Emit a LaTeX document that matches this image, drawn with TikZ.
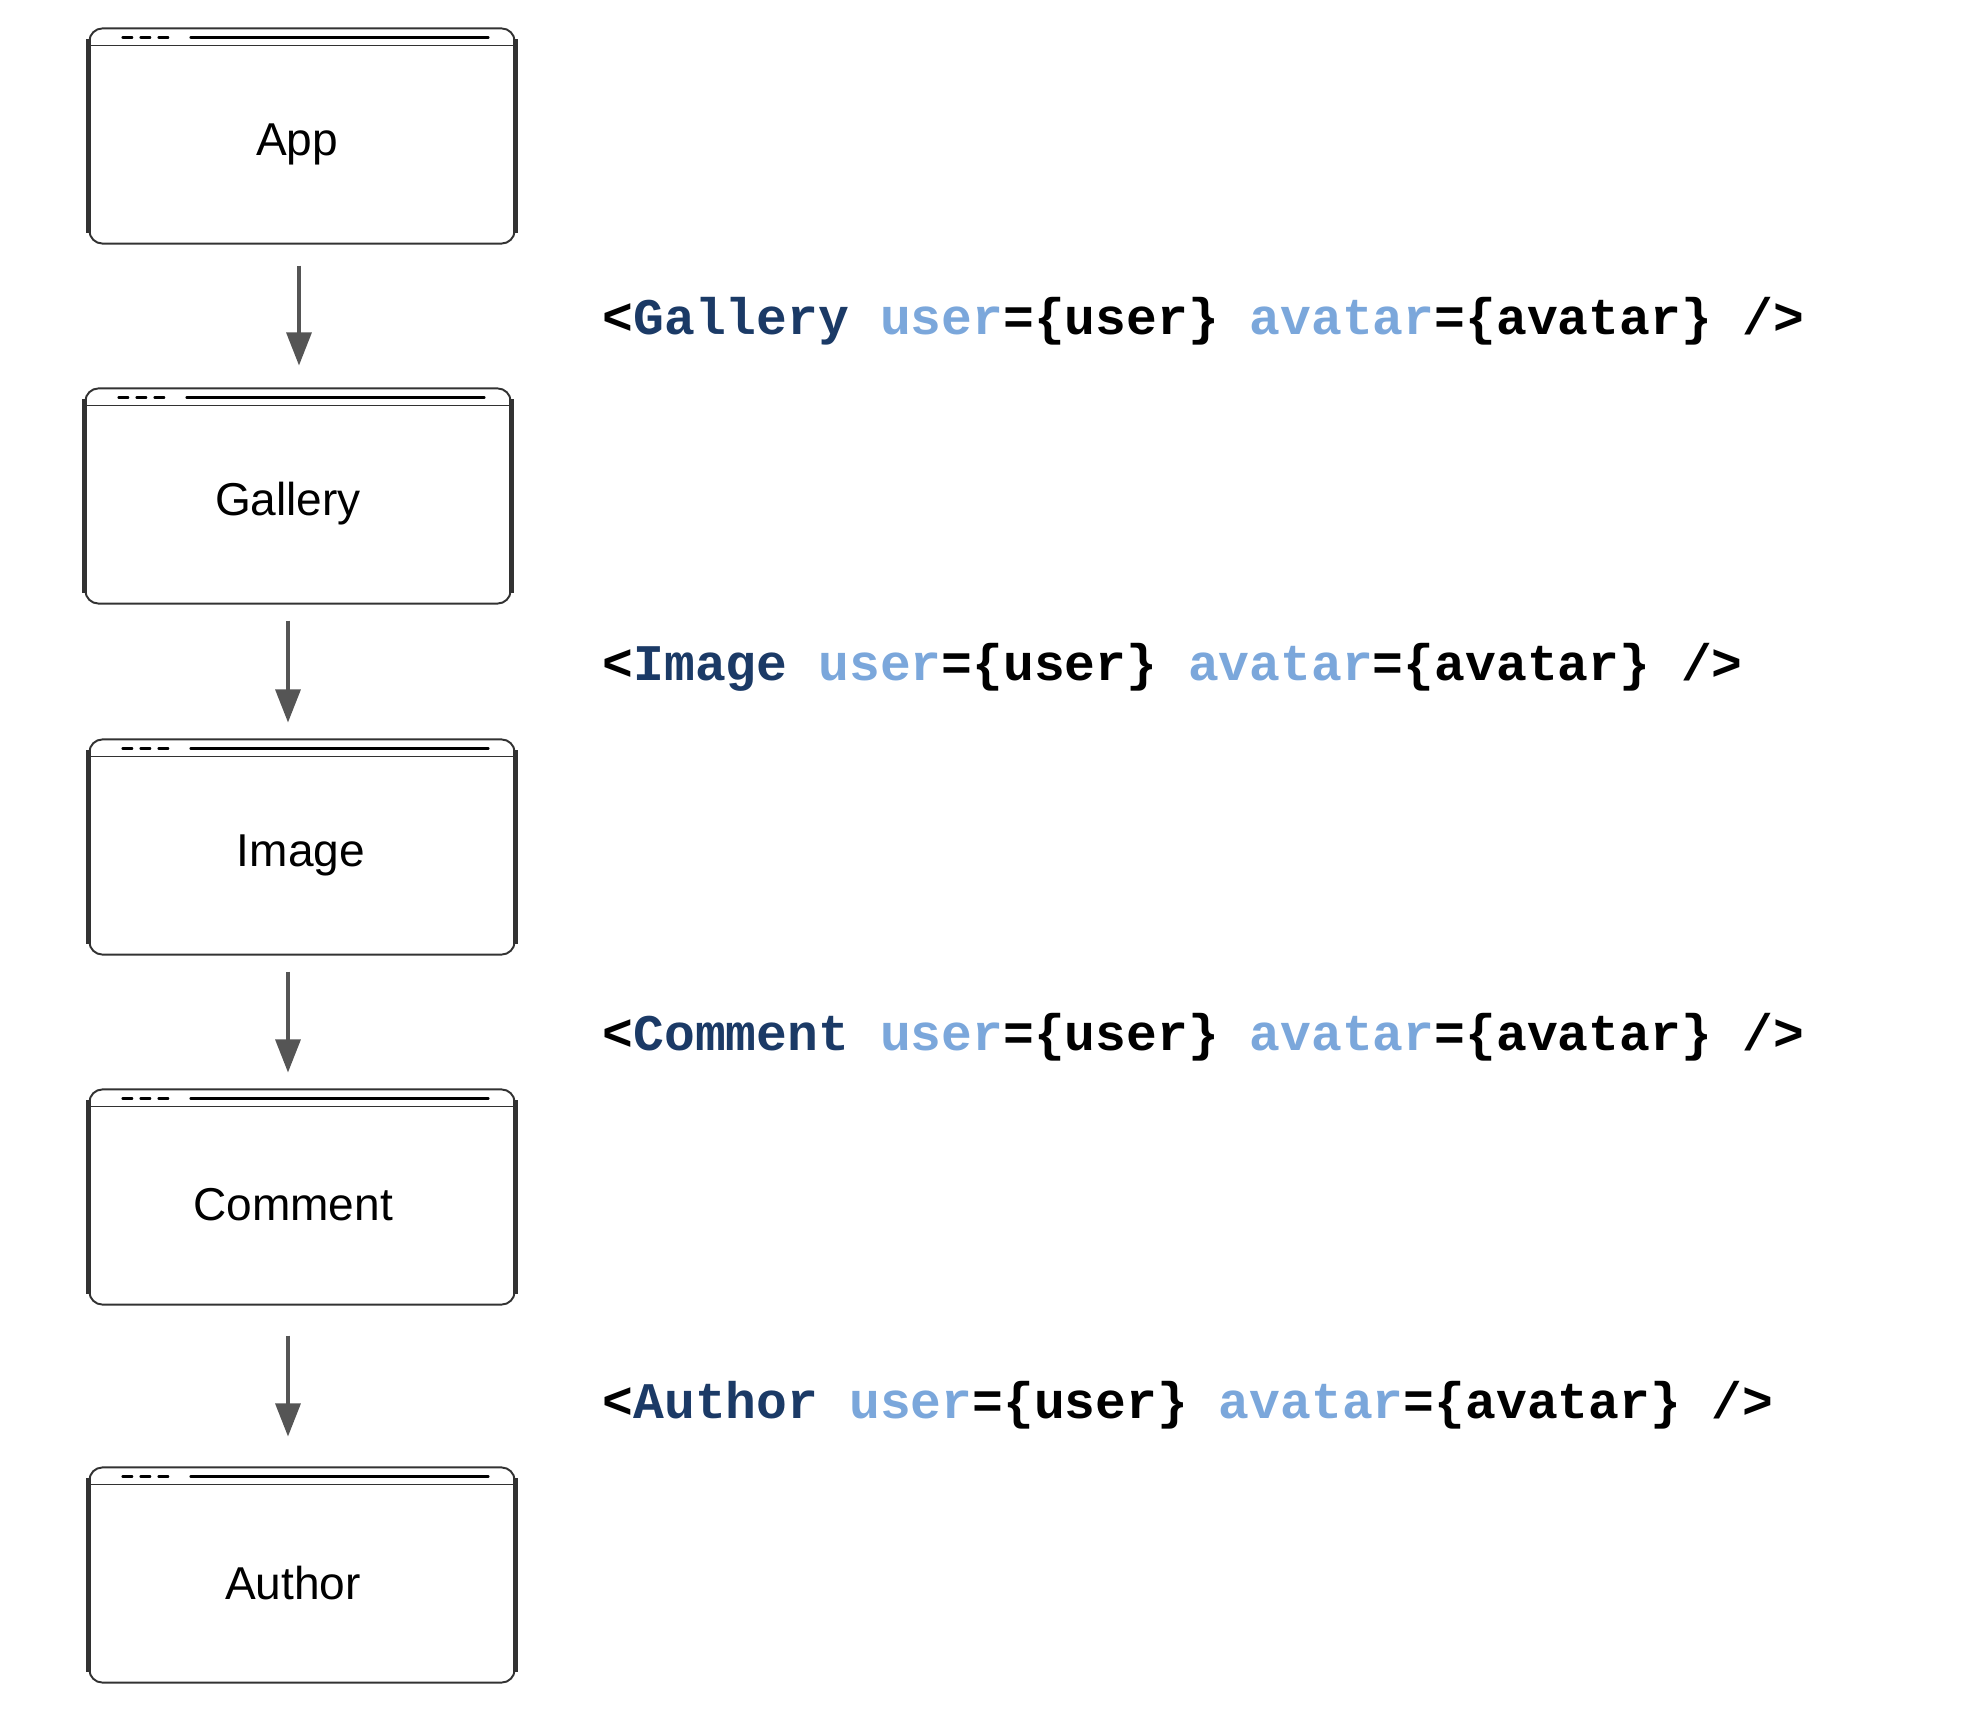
\documentclass[tikz,border=0pt]{standalone}
\usepackage{fontspec}
\setmainfont{Liberation Sans}
\setmonofont{Liberation Mono}
\usetikzlibrary{arrows.meta,calc,positioning}

\definecolor{tagblue}{RGB}{27,58,102}
\definecolor{propblue}{RGB}{123,167,219}
\definecolor{framegray}{RGB}{50,50,50}
\definecolor{arrowgray}{RGB}{85,85,85}

\newcommand{\jsxtag}[1]{\textcolor{tagblue}{#1}}
\newcommand{\jsxprop}[1]{\textcolor{propblue}{#1}}

\tikzset{
	win/.style 2 args={draw=framegray, line width=0.55pt, rounded corners=3.7pt,
		minimum width=4.25cm, minimum height=2.15cm, inner sep=0pt,
		label={[font=\fontsize{13.1}{16}\selectfont, yshift=-2.3pt, xshift=#2cm]center:#1}},
	side/.style={draw=framegray, line width=1.6pt},
	bar/.style={draw=black, line width=1.1pt, line cap=round},
	flow/.style={draw=arrowgray, line width=0.9pt, -{Triangle[width=0.25cm, length=0.33cm]}},
	code/.style={anchor=base west, inner sep=0pt,
		font=\ttfamily\bfseries\fontsize{14.6}{17}\selectfont}
}

\begin{document}
\begin{tikzpicture}[x=0.01cm, y=-0.01cm]
		\useasboundingbox (0,0) rectangle (1986,1716);

		% component windows
		\node[win={App}{-0.05}] (app) at (302,136) {};
		\node[win={Gallery}{-0.1}] (gallery) at (298,496) {};
		\node[win={Image}{-0.01}] (image) at (302,847) {};
		\node[win={Comment}{-0.09}] (comment) at (302,1197) {};
		\node[win={Author}{-0.09}] (author) at (302,1575) {};

		\foreach \n in {app,gallery,image,comment,author}
		{
			\draw[side] ([shift={(0,12)}]\n.north west) -- ([shift={(0,-12)}]\n.south west);
			\draw[side] ([shift={(0,12)}]\n.north east) -- ([shift={(0,-12)}]\n.south east);
			\draw[framegray, line width=0.45pt] ([shift={(0,18)}]\n.north west) -- ([shift={(0,18)}]\n.north east);
			\foreach \d in {35,53,71}
				\draw[bar] ([shift={(\d,10)}]\n.north west) -- ++(8,0);
			\draw[bar] ([shift={(103,10)}]\n.north west) -- ([shift={(-28,10)}]\n.north east);
		}

		% props passed down
		\foreach \a/\b/\dx/\s/\e in {app/gallery/-3/21/22, gallery/image/-10/16/16, image/comment/-14/16/16, comment/author/-14/30/30}
		{
			\draw[flow] ($(\a.south)+(\dx,\s)$) -- ($(\a.south |- \b.north)+(\dx,-\e)$);
		}

		\foreach \cname/\y in {Gallery/335, Image/680, Comment/1050, Author/1418}
		{
			\node[code] (code\cname) at (602,\y) {<\jsxtag{\cname} \jsxprop{user}=\{user\} \jsxprop{avatar}=\{avatar\} />};
		}

	\end{tikzpicture}
\end{document}
